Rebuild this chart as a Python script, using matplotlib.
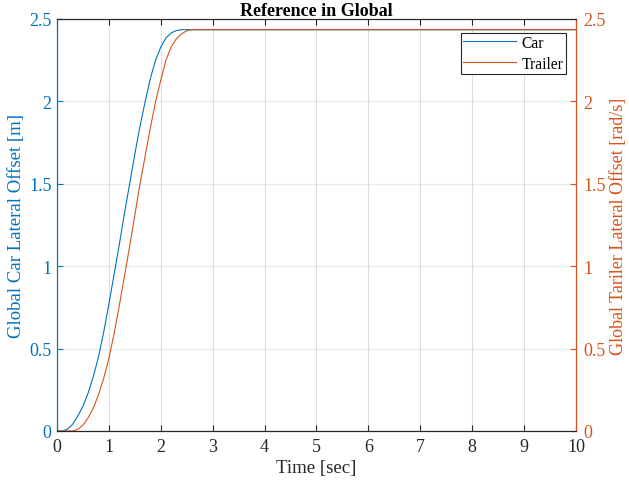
import matplotlib
matplotlib.use("Agg")
import matplotlib.pyplot as plt

# data
t_car = [0, 0.10, 0.20, 0.30, 0.40, 0.50, 0.60, 0.70, 0.80, 0.90, 1.00, 1.10,
         1.20, 1.30, 1.40, 1.50, 1.60, 1.70, 1.80, 1.90, 2.00, 2.10, 2.20, 2.30,
         2.40, 10]
y_car = [0, 0, 0.01, 0.04, 0.09, 0.15, 0.23, 0.33, 0.45, 0.60, 0.77, 0.95,
         1.13, 1.32, 1.50, 1.68, 1.85, 2.00, 2.14, 2.25, 2.33, 2.385, 2.415, 2.43,
         2.435, 2.435]

t_trl = [0, 0.30, 0.40, 0.50, 0.60, 0.70, 0.80, 0.90, 1.00, 1.10, 1.20, 1.30,
         1.40, 1.50, 1.60, 1.70, 1.80, 1.90, 2.00, 2.10, 2.20, 2.30, 2.40, 2.50,
         2.60, 10]
y_trl = [0, 0, 0.01, 0.035, 0.08, 0.14, 0.22, 0.32, 0.44, 0.59, 0.76, 0.94,
         1.12, 1.31, 1.50, 1.67, 1.84, 2.00, 2.13, 2.25, 2.33, 2.38, 2.41, 2.428,
         2.435, 2.435]

xticks = list(range(0, 11))
yticks = [0, 0.5, 1, 1.5, 2, 2.5]
ytick_labels = ["0", "0.5", "1", "1.5", "2", "2.5"]

# MATLAB-ish look
plt.rcParams['font.family'] = ['Liberation Serif', 'DejaVu Serif']
plt.rcParams['font.size'] = 11
blue = '#0072BD'
orange = '#D95319'
dark = '#262626'

fig = plt.figure(figsize=(6.29, 4.85), dpi=100)
ax = fig.add_axes([0.0906, 0.1093, 0.8251, 0.8495])
ax2 = ax.twinx()

l1, = ax.plot(t_car, y_car, color=blue, lw=0.8, label='Car')
l2, = ax2.plot(t_trl, y_trl, color=orange, lw=0.8, label='Trailer')

for a in (ax, ax2):
    a.set_xlim(0, 10)
    a.set_ylim(0, 2.5)
    a.set_yticks(yticks)
    a.set_yticklabels(ytick_labels)

ax.set_xticks(xticks)
ax.xaxis.grid(True, color=dark, alpha=0.15, lw=0.8)
ax.yaxis.grid(True, color=blue, alpha=0.12, lw=0.8)
ax.set_axisbelow(True)

ax.tick_params(axis='x', direction='in', length=4, width=0.8, colors=dark,
               top=True, labelsize=13, pad=5)
ax.tick_params(axis='y', direction='in', length=4, width=0.8, colors=blue,
               labelsize=13, pad=4)
ax2.tick_params(axis='y', direction='in', length=4, width=0.8, colors=orange,
                labelsize=13, pad=5)

for a in (ax, ax2):
    a.spines['top'].set_color(dark)
    a.spines['bottom'].set_color(dark)
    a.spines['left'].set_color(blue)
    a.spines['right'].set_color(orange)
    for s in a.spines.values():
        s.set_linewidth(0.8)

ax.set_xlabel('Time [sec]', fontsize=13.5, color=dark, labelpad=3)
ax.set_ylabel('Global Car Lateral Offset [m]', fontsize=13.5, color=blue, labelpad=3)
ax2.set_ylabel('Global Tariler Lateral Offset [rad/s]', fontsize=13, color=orange,
               labelpad=3)
ax.set_title('Reference in Global', fontsize=13, fontweight='bold', pad=3)

leg = ax2.legend(handles=[l1, l2], loc='upper right', fontsize=11.2,
                 bbox_to_anchor=(0.98, 0.967), fancybox=False, framealpha=1,
                 edgecolor=dark, borderpad=0.15, labelspacing=0.32,
                 handlelength=3.4, handletextpad=0.35, borderaxespad=0)
leg.get_frame().set_linewidth(0.8)

fig.savefig('out.png', dpi=100)
